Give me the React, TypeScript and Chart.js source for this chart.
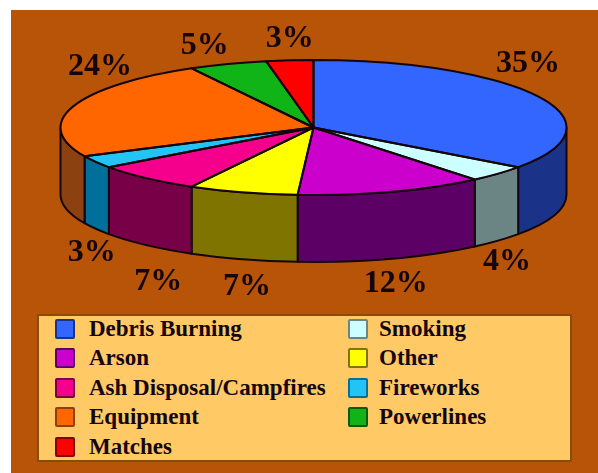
import React, { useEffect, useRef } from "react";
import { Chart, registerables } from "chart.js";

Chart.register(...registerables);

const categories = ["Debris Burning", "Smoking", "Arson", "Other", "Ash Disposal/Campfires", "Fireworks", "Equipment", "Powerlines", "Matches"];
const percents = [35, 4, 12, 7, 7, 3, 24, 5, 3];
const topColors = ["#3366FF", "#CCFFFF", "#CC00CC", "#FFFF00", "#F5008C", "#22C4F5", "#FF6600", "#10B416", "#FF0000"];
const sideColors = ["#1A3388", "#6B8585", "#5C0066", "#807400", "#770047", "#00709A", "#8C4210", "#0A5A0B", "#800000"];
// label offset from the middle of each slice's outer edge
const labelDx = [-11, 9, 4, 4, 12, -4, 27, -23, 0];
const labelDy = [-33, 88, 92, 94, 104, 91, -40, -18, -22];

const BROWN = "#B85407";
const INK = "#14060C";
const SQUASH = 67.5 / 253;
const DEPTH = 67;
const RADIUS = 253;
const LINE = 2;

const pie3d = {
  id: "pie3d",
  beforeDatasetsDraw(chart: any) {
    const ctx = chart.ctx;
    const arcs = chart.getDatasetMeta(0).data;
    const { x: cx, y: cy } = arcs[0];
    const ry = RADIUS * SQUASH;
    // side walls, only where the rim faces the viewer
    arcs.forEach((arc: any, i: number) => {
      const norm = (a: number) => {
        let v = a;
        while (v < -Math.PI / 2 - 1e-6) v += Math.PI * 2;
        return v;
      };
      const a0 = Math.max(norm(arc.startAngle), 0);
      const a1 = Math.min(norm(arc.endAngle), Math.PI);
      if (a1 <= a0) return;
      ctx.beginPath();
      ctx.ellipse(cx, cy, RADIUS, ry, 0, a0, a1, false);
      ctx.ellipse(cx, cy + DEPTH, RADIUS, ry, 0, a1, a0, true);
      ctx.closePath();
      ctx.fillStyle = sideColors[i];
      ctx.fill();
      ctx.strokeStyle = INK;
      ctx.lineWidth = LINE;
      ctx.lineJoin = "round";
      ctx.stroke();
    });
    // squash the library's own arcs into the tilted top face
    ctx.save();
    ctx.translate(cx, cy);
    ctx.scale(1, SQUASH);
    ctx.translate(-cx, -cy);
  },
  afterDatasetsDraw(chart: any) {
    const ctx = chart.ctx;
    ctx.restore();
    const arcs = chart.getDatasetMeta(0).data;
    const { x: cx, y: cy } = arcs[0];
    const ry = RADIUS * SQUASH;
    arcs.forEach((arc: any, i: number) => {
      ctx.beginPath();
      ctx.moveTo(cx, cy);
      ctx.ellipse(cx, cy, RADIUS, ry, 0, arc.startAngle, arc.endAngle, false);
      ctx.closePath();
      ctx.strokeStyle = INK;
      ctx.lineWidth = LINE;
      ctx.lineJoin = "round";
      ctx.stroke();

      const mid = (arc.startAngle + arc.endAngle) / 2;
      const lx = cx + RADIUS * Math.cos(mid) + labelDx[i];
      const ly = cy + ry * Math.sin(mid) + labelDy[i];
      ctx.fillStyle = INK;
      ctx.font = 'bold 32px "Liberation Serif"';
      ctx.textAlign = "center";
      ctx.textBaseline = "middle";
      ctx.fillText(`${percents[i]}%`, lx, ly);
    });
  },
};

const legendLeft = [0, 2, 4, 6, 8];
const legendRight = [1, 3, 5, 7];

function LegendRow({ index, row, swatchX, textX }: { index: number; row: number; swatchX: number; textX: number }) {
  const centerY = 12.5 + row * 29.5;
  return (
    <>
      <div
        style={{
          position: "absolute",
          left: swatchX,
          top: centerY - 10,
          width: 16,
          height: 16,
          background: topColors[index],
          border: `2px solid ${sideColors[index]}`,
          borderRadius: 2,
        }}
      />
      <div
        style={{
          position: "absolute",
          left: textX,
          top: centerY - 13,
          height: 26,
          lineHeight: "26px",
          fontFamily: '"Liberation Serif"',
          fontWeight: 700,
          fontSize: 23,
          color: INK,
          whiteSpace: "nowrap",
        }}
      >
        {categories[index]}
      </div>
    </>
  );
}

export default function App() {
  const ref = useRef<HTMLCanvasElement>(null);

  useEffect(() => {
    document.body.style.margin = "0";
    const chart = new Chart(ref.current!, {
      type: "pie",
      data: {
        labels: categories,
        datasets: [
          {
            data: percents,
            backgroundColor: topColors,
            borderWidth: 0,
            radius: RADIUS,
          } as any,
        ],
      },
      options: {
        responsive: false,
        animation: false,
        events: [],
        layout: { padding: { left: 29, right: 0, top: 0, bottom: 218 } },
        plugins: { legend: { display: false }, tooltip: { enabled: false } },
      },
      plugins: [pie3d],
    });
    return () => chart.destroy();
  }, []);

  return (
    <div style={{ position: "absolute", left: 0, top: 0, width: 598, height: 473, overflow: "hidden", background: "#fff", filter: "blur(0.6px)" }}>
      <div style={{ position: "absolute", left: 11, top: 10, right: 0, bottom: 0, background: BROWN }} />
      <canvas ref={ref} width={598} height={473} style={{ position: "absolute", left: 0, top: 0, display: "block" }} />
      <div
        style={{
          position: "absolute",
          left: 37,
          top: 314,
          width: 531,
          height: 144,
          background: "#FFC966",
          border: "2px solid #8A4B0C",
        }}
      >
        {legendLeft.map((idx, row) => (
          <LegendRow key={idx} index={idx} row={row} swatchX={16} textX={50} />
        ))}
        {legendRight.map((idx, row) => (
          <LegendRow key={idx} index={idx} row={row} swatchX={309} textX={340} />
        ))}
      </div>
    </div>
  );
}
